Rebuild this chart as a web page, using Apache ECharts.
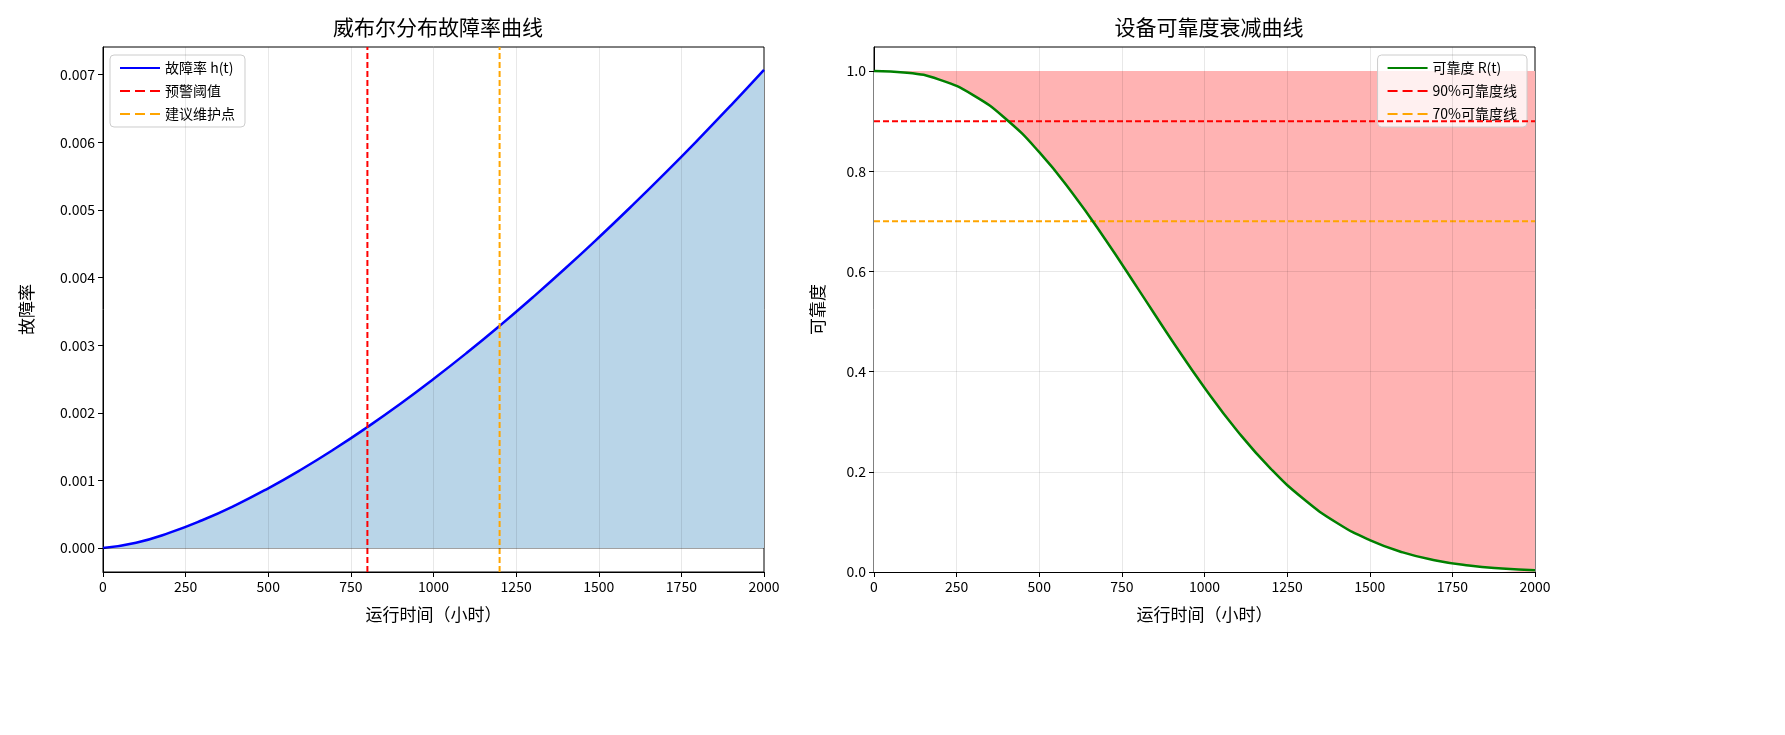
<!DOCTYPE html><html><head><meta charset="utf-8"><script src="https://cdn.jsdelivr.net/npm/echarts@6/dist/echarts.min.js"></script>
<style>html,body{margin:0;background:#fff}#c{width:1785px;height:735px}</style></head><body><div id="c"></div><script>
const hours=[0,100,200,300,400,500,600,700,800,900,1000,1100,1200,1300,1400,1500,1600,1700,1800,1900,2000];
const hazard=[0,0.000079,0.000224,0.000411,0.000632,0.000884,0.001162,0.001464,0.001789,0.002134,0.0025,0.002884,0.003286,0.003706,0.004141,0.004593,0.00506,0.005541,0.006037,0.006547,0.007071];
const reliability=[1,0.9968,0.9823,0.9519,0.9037,0.838,0.7566,0.6637,0.5642,0.4637,0.3679,0.2811,0.2065,0.1456,0.0984,0.0636,0.0392,0.0231,0.0129,0.0069,0.0035];
const warnT=800, maintT=1200, r90=0.9, r70=0.7;
const xTicks=[0,250,500,750,1000,1250,1500,1750,2000];
const leftTicks=[0,0.001,0.002,0.003,0.004,0.005,0.006,0.007];
const rightTicks=[0,0.2,0.4,0.6,0.8,1.0];
const F='"Noto Sans CJK SC", sans-serif';
const ch=echarts.init(document.getElementById('c'));
const yminL=-0.000354,ymaxL=0.00741,ymaxR=1.048;
const xa=(i)=>({type:'value',gridIndex:i,min:0,max:2000,interval:250,name:'运行时间（小时）',nameLocation:'middle',nameGap:34,
 nameTextStyle:{fontSize:17,color:'#000',fontFamily:F},axisLine:{onZero:false,lineStyle:{color:'#000'}},axisTick:{show:true,lineStyle:{color:'#000'}},
 axisLabel:{color:'#000',fontSize:14,fontFamily:F,formatter:v=>String(v)},splitLine:{show:false}});
const hd=hours.map((t,i)=>[t,hazard[i]]);
const rd=hours.map((t,i)=>[t,reliability[i]]);
const gl='rgba(0,0,0,0.09)';
function gridLines(ys){
 return {silent:true,symbol:'none',label:{show:false},lineStyle:{color:gl,type:'solid',width:1},
  data:xTicks.slice(1,-1).map(x=>({xAxis:x})).concat(ys.map(y=>({yAxis:y})))};
}
const dash='path://M0,4h10v2h-10zM15,4h10v2h-10zM30,4h10v2h-10z';
const solid='path://M0,4h40v2h-40z';
const lg={orient:'vertical',itemWidth:40,itemHeight:10,itemGap:9,padding:[6,10],
 backgroundColor:'rgba(255,255,255,0.8)',borderColor:'#ccc',borderWidth:1,borderRadius:4,textStyle:{fontSize:14,fontFamily:F,color:'#000'}};
ch.setOption({animation:false,
title:[{text:'威布尔分布故障率曲线',left:433,top:12,textAlign:'center',textStyle:{fontSize:21,fontWeight:'normal',fontFamily:F,color:'#000'}},
{text:'设备可靠度衰减曲线',left:1204,top:12,textAlign:'center',textStyle:{fontSize:21,fontWeight:'normal',fontFamily:F,color:'#000'}}],
grid:[{left:103,top:47,width:661,height:525,show:true,borderColor:'#000',borderWidth:1},{left:874,top:47,width:661,height:525,show:true,borderColor:'#000',borderWidth:1}],
xAxis:[xa(0),xa(1)],
yAxis:[{type:'value',gridIndex:0,min:yminL,max:ymaxL,name:'故障率',nameLocation:'middle',nameGap:68,nameTextStyle:{fontSize:17,color:'#000',fontFamily:F},
 axisLine:{show:true,onZero:false,lineStyle:{color:'#000'}},axisTick:{show:true,customValues:leftTicks,lineStyle:{color:'#000'}},
 axisLabel:{customValues:leftTicks,color:'#000',fontSize:14,fontFamily:F,formatter:v=>v.toFixed(3)},splitLine:{show:false}},
 {type:'value',gridIndex:1,min:0,max:ymaxR,name:'可靠度',nameLocation:'middle',nameGap:48,nameTextStyle:{fontSize:17,color:'#000',fontFamily:F},
 axisLine:{show:true,onZero:false,lineStyle:{color:'#000'}},axisTick:{show:true,customValues:rightTicks,lineStyle:{color:'#000'}},
 axisLabel:{customValues:rightTicks,color:'#000',fontSize:14,fontFamily:F,formatter:v=>v.toFixed(1)},splitLine:{show:false}}],
legend:[Object.assign({data:[{name:'故障率 h(t)',icon:solid},{name:'预警阈值',icon:dash},{name:'建议维护点',icon:dash}],left:110,top:55},lg),
 Object.assign({data:[{name:'可靠度 R(t)',icon:solid},{name:'90%可靠度线',icon:dash},{name:'70%可靠度线',icon:dash}],right:258,top:55},lg)],
series:[
 {type:'line',xAxisIndex:0,yAxisIndex:0,name:'故障率 h(t)',data:hd,smooth:true,showSymbol:false,lineStyle:{color:'#0000ff',width:2.5},itemStyle:{color:'#0000ff'},areaStyle:{color:'#b9d5e8',origin:0,opacity:1},z:3,
  markLine:gridLines(leftTicks)},
 {type:'line',xAxisIndex:0,yAxisIndex:0,name:'预警阈值',data:[[warnT,yminL],[warnT,ymaxL]],showSymbol:false,lineStyle:{color:'#ff0000',width:2,type:[6,3]},itemStyle:{color:'#ff0000'},z:4},
 {type:'line',xAxisIndex:0,yAxisIndex:0,name:'建议维护点',data:[[maintT,yminL],[maintT,ymaxL]],showSymbol:false,lineStyle:{color:'#ffa500',width:2,type:[6,3]},itemStyle:{color:'#ffa500'},z:4},
 {type:'line',xAxisIndex:1,yAxisIndex:1,name:'fill',data:rd,smooth:true,showSymbol:false,lineStyle:{width:0},areaStyle:{color:'#fff',opacity:1,origin:0},silent:true,z:2,
  markArea:{silent:true,itemStyle:{color:'#ffb3b3',opacity:1},data:[[{coord:[0,0]},{coord:[2000,1]}]]}},
 {type:'line',xAxisIndex:1,yAxisIndex:1,name:'可靠度 R(t)',data:rd,smooth:true,showSymbol:false,lineStyle:{color:'#008000',width:2.5},itemStyle:{color:'#008000'},z:5,
  markLine:gridLines(rightTicks.slice(1,-1))},
 {type:'line',xAxisIndex:1,yAxisIndex:1,name:'90%可靠度线',data:[[0,r90],[2000,r90]],showSymbol:false,lineStyle:{color:'#ff0000',width:2,type:[6,3]},itemStyle:{color:'#ff0000'},z:4},
 {type:'line',xAxisIndex:1,yAxisIndex:1,name:'70%可靠度线',data:[[0,r70],[2000,r70]],showSymbol:false,lineStyle:{color:'#ffa500',width:2,type:[6,3]},itemStyle:{color:'#ffa500'},z:4}
]});
</script></body></html>
